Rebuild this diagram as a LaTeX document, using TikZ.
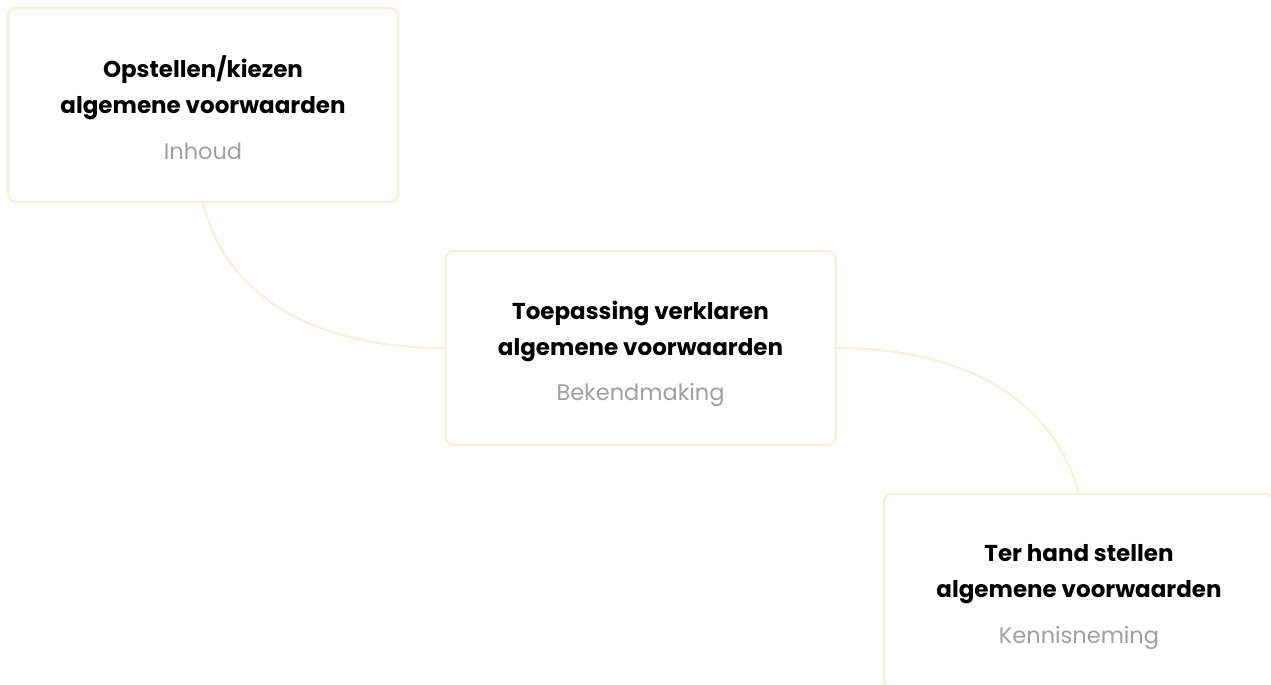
\documentclass[tikz,border=0pt]{standalone}
\usepackage{fontspec}
\setmainfont{Poppins}
\usetikzlibrary{positioning}
\definecolor{peach}{RGB}{252,236,218}
\definecolor{subgray}{RGB}{160,160,160}

\begin{document}
\begin{tikzpicture}[x=1pt,y=-1pt,
		stapbox/.style={draw=peach, line width=2pt, rounded corners=8pt, fill=white,
			minimum width=390pt, minimum height=194pt, inner sep=0pt},
		stapkop/.style={align=center, inner sep=0pt, font=\fontsize{23}{36}\selectfont\bfseries},
		stapsub/.style={inner sep=0pt, text=subgray, font=\fontsize{22.5}{26}\selectfont},
		verbinder/.style={draw=peach, line width=2pt}]
		\useasboundingbox (0,0) rectangle (1271,685);
		\clip (0,0) rectangle (1271,685);

		% stappen
		\node[stapbox] (inhoud) at (203,105) {};
		\node[stapkop] (inhoudkop) at (203,88) {Opstellen/kiezen\\algemene voorwaarden};
		\node[stapsub, below=22pt of inhoudkop] (inhoudsub) {Inhoud};

		\node[stapbox] (bekend) at (640.5,348) {};
		\node[stapkop] (bekendkop) at (640.5,331) {Toepassing verklaren\\algemene voorwaarden};
		\node[stapsub, below=22pt of bekendkop] (bekendsub) {Bekendmaking};

		\node[stapbox] (kennis) at (1079,591) {};
		\node[stapkop] (kenniskop) at (1079,574) {Ter hand stellen\\algemene voorwaarden};
		\node[stapsub, below=22pt of kenniskop] (kennissub) {Kennisneming};

		% verbindingen
		\draw[verbinder] (inhoud.south) to[out=-76,in=180] (bekend.west);
		\draw[verbinder] (bekend.east) to[out=0,in=106] (kennis.north);
\end{tikzpicture}
\end{document}
